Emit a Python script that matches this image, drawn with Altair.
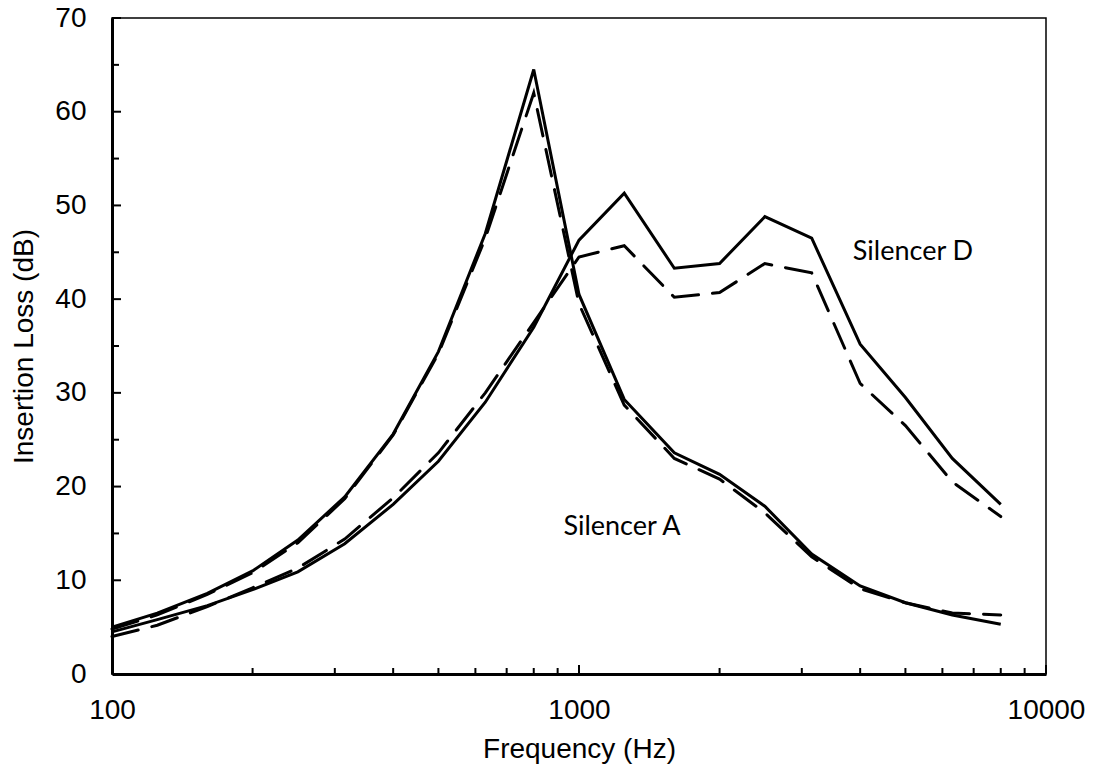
import altair as alt
import pandas as pd

freqs = [100, 125, 160, 200, 250, 315, 400, 500, 630, 800, 1000, 1250, 1600, 2000, 2500, 3150, 4000, 5000, 6300, 8000]

a_solid = [5.0, 6.5, 8.6, 11.0, 14.3, 18.9, 25.6, 34.4, 47.0, 64.5, 40.5, 29.3, 23.6, 21.3, 17.9, 12.8, 9.4, 7.6, 6.3, 5.3]
a_dashed = [4.8, 6.3, 8.5, 10.8, 14.0, 18.7, 25.5, 34.2, 46.5, 62.0, 39.5, 28.7, 23.0, 20.8, 17.2, 12.5, 9.1, 7.6, 6.5, 6.3]
d_solid = [4.5, 5.8, 7.3, 9.0, 10.9, 13.9, 18.1, 22.7, 29.0, 37.0, 46.3, 51.3, 43.3, 43.8, 48.8, 46.5, 35.2, 29.5, 23.0, 18.1]
d_dashed = [4.0, 5.2, 7.2, 9.2, 11.3, 14.4, 18.8, 23.6, 30.0, 37.5, 44.5, 45.7, 40.2, 40.7, 43.8, 42.8, 31.0, 26.5, 20.5, 16.8]

label_text = ["Silencer D", "Silencer A"]
label_freq = [5190, 1236]
label_val = [45.0, 15.7]

x_major = [100, 1000, 10000]
x_minor = [200, 300, 400, 500, 600, 700, 800, 900, 2000, 3000, 4000, 5000, 6000, 7000, 8000, 9000]
y_major = [0, 10, 20, 30, 40, 50, 60, 70]
y_minor = [5, 15, 25, 35, 45, 55, 65]

rows = []
for name, vals, style in [("A solid", a_solid, "solid"), ("A dashed", a_dashed, "dashed"),
                          ("D solid", d_solid, "solid"), ("D dashed", d_dashed, "dashed")]:
    for f, v in zip(freqs, vals):
        rows.append({"freq": f, "il": v, "series": name, "style": style})
df = pd.DataFrame(rows)

W, H = 934, 656
FONT = "Liberation Sans"

xs = alt.Scale(type="log", domain=[100, 10000], nice=False)
ys = alt.Scale(domain=[0, 70], nice=False, zero=False)

x_axis = alt.Axis(values=x_major, format="d", title="Frequency (Hz)", grid=False, ticks=False,
                  labelFont=FONT, labelFontSize=28, labelColor="black", labelPadding=22,
                  titleFont=FONT, titleFontSize=28, titleFontWeight="normal", titleColor="black",
                  titlePadding=11, domainColor="black", domainWidth=3, labelFlush=False)
y_axis = alt.Axis(values=y_major, title="Insertion Loss (dB)", grid=False, ticks=False,
                  labelFont=FONT, labelFontSize=28, labelColor="black", labelPadding=26,
                  titleFont=FONT, titleFontSize=28, titleFontWeight="normal", titleColor="black",
                  titlePadding=16, domainColor="black", domainWidth=3)

base = alt.Chart(df)
solid = base.transform_filter(alt.datum.style == "solid").mark_line(
    color="black", strokeWidth=3, strokeJoin="miter").encode(
    x=alt.X("freq:Q", scale=xs, axis=x_axis),
    y=alt.Y("il:Q", scale=ys, axis=y_axis),
    detail="series:N", order="freq:Q")
dashed = base.transform_filter(alt.datum.style == "dashed").mark_line(
    color="black", strokeWidth=3, strokeDash=[27, 14], strokeCap="round").encode(
    x=alt.X("freq:Q", scale=xs),
    y=alt.Y("il:Q", scale=ys),
    detail="series:N", order="freq:Q")

labels = alt.Chart(pd.DataFrame({"t": label_text, "f": label_freq, "v": label_val})).mark_text(
    font="Lato", fontSize=27, color="black", align="center", baseline="middle").encode(
    x=alt.X("f:Q", scale=xs), y=alt.Y("v:Q", scale=ys), text="t:N")

xmaj = alt.Chart(pd.DataFrame({"f": x_major})).mark_rule(color="black", strokeWidth=2).encode(
    x=alt.X("f:Q", scale=xs), y=alt.value(H), y2=alt.value(H - 9))
xmin = alt.Chart(pd.DataFrame({"f": x_minor})).mark_rule(color="black", strokeWidth=2).encode(
    x=alt.X("f:Q", scale=xs), y=alt.value(H), y2=alt.value(H - 6))
ymaj = alt.Chart(pd.DataFrame({"v": y_major})).mark_rule(color="black", strokeWidth=2).encode(
    y=alt.Y("v:Q", scale=ys), x=alt.value(0), x2=alt.value(9))
ymin = alt.Chart(pd.DataFrame({"v": y_minor})).mark_rule(color="black", strokeWidth=2).encode(
    y=alt.Y("v:Q", scale=ys), x=alt.value(0), x2=alt.value(7))

chart = alt.layer(solid, dashed, labels, xmaj, xmin, ymaj, ymin).properties(
    width=W, height=H,
    autosize=alt.AutoSizeParams(type="none"),
    padding={"left": 112, "top": 18, "right": 51, "bottom": 98},
    background="white",
).configure_view(stroke="black", strokeWidth=1.5)

chart.save("out.html", embed_options={"renderer": "svg", "actions": False})
